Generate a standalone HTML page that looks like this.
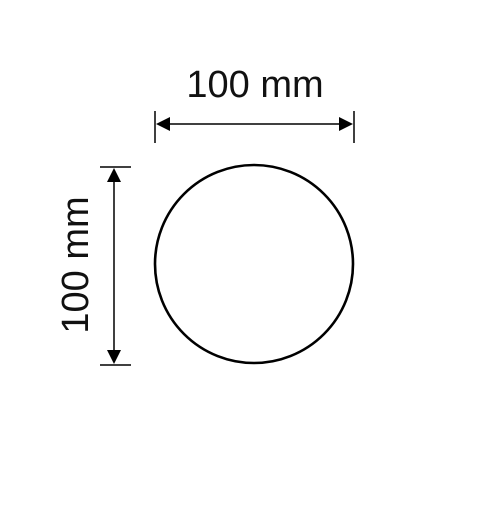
<!DOCTYPE html>
<html><head><meta charset="utf-8"><style>
html,body{margin:0;padding:0;background:#fff;}
svg{display:block;}
</style></head><body>
<svg width="500" height="505" viewBox="0 0 500 505">
<rect width="500" height="505" fill="#fff"/>
<circle cx="254" cy="264" r="99" fill="none" stroke="#000" stroke-width="2.6"/>
<g stroke="#000" fill="#000">
<line x1="155" y1="111" x2="155" y2="143" stroke-width="1.5"/>
<line x1="354" y1="111" x2="354" y2="143" stroke-width="1.5"/>
<line x1="160" y1="124" x2="349" y2="124" stroke-width="1.5"/>
<polygon points="156,124 170,117 170,131" stroke="none"/>
<polygon points="353,124 339,117 339,131" stroke="none"/>
</g>
<text x="255" y="97" text-anchor="middle" font-family="Liberation Sans, sans-serif" font-size="38" fill="#111">100 mm</text>
<g stroke="#000" fill="#000">
<line x1="100" y1="167" x2="131" y2="167" stroke-width="1.5"/>
<line x1="100" y1="365" x2="131" y2="365" stroke-width="1.5"/>
<line x1="114" y1="172" x2="114" y2="360" stroke-width="1.5"/>
<polygon points="114,168 107,182 121,182" stroke="none"/>
<polygon points="114,364 107,350 121,350" stroke="none"/>
</g>
<text x="0" y="0" transform="translate(88,265) rotate(-90)" text-anchor="middle" font-family="Liberation Sans, sans-serif" font-size="38" fill="#111">100 mm</text>
</svg>
</body></html>
